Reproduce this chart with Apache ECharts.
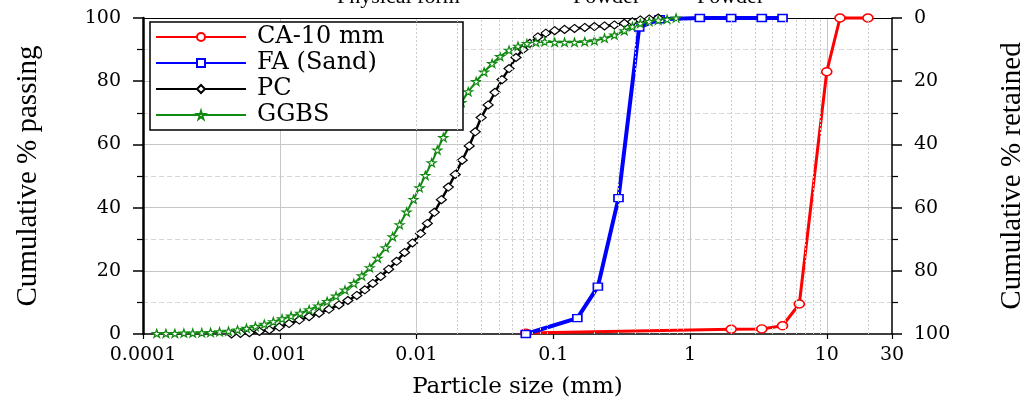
<!DOCTYPE html>
<html>
<head>
<meta charset="utf-8">
<title>Particle size distribution</title>
<script src="https://cdn.jsdelivr.net/npm/echarts@6/dist/echarts.min.js"></script>
<style>
  html, body { margin: 0; padding: 0; background: #fff; }
  #chart { width: 1035px; height: 408px; }
</style>
</head>
<body>
<div id="chart"></div>
<script>
// sieve / laser data, size in mm, cumulative % passing
const caSize = [0.063, 2, 3.35, 4.75, 6.3, 10, 12.5, 20]
const caPassing = [0.3, 1.5, 1.6, 2.6, 9.5, 83, 100, 100]

const faSize = [0.063, 0.15, 0.212, 0.3, 0.425, 0.6, 1.18, 2, 3.35, 4.75]
const faPassing = [0, 5, 15, 43, 97, 99.6, 100, 100, 100, 100]

const pcSize = [0.000444, 0.000516, 0.0006, 0.00071, 0.000839, 0.000992, 0.00117, 0.00139, 0.00164, 0.00194,
  0.00229, 0.00271, 0.00315, 0.00366, 0.00419, 0.00479, 0.00547, 0.00626, 0.00715, 0.00818,
  0.00935, 0.0107, 0.012, 0.0135, 0.0152, 0.0171, 0.0192, 0.0216, 0.0243, 0.0269,
  0.0297, 0.0334, 0.0375, 0.0422, 0.0475, 0.0534, 0.06, 0.0675, 0.0771, 0.0882,
  0.1025, 0.121, 0.143, 0.17, 0.2, 0.237, 0.28, 0.331, 0.379, 0.433, 0.503, 0.585]
const pcPassing = [0, 0.2, 0.4, 0.8, 1.3, 2.2, 3.3, 4.4, 5.5, 6.6,
  7.8, 9.2, 10.6, 12.2, 14, 16, 18.2, 20.5, 23, 25.8,
  28.8, 31.8, 35, 38.5, 42.5, 46.5, 50.5, 55, 59.5, 64,
  68.5, 72.5, 76.5, 80.5, 84, 87.5, 90, 92, 94, 95.2,
  96, 96.4, 96.7, 97, 97.3, 97.5, 97.8, 98.3, 98.8, 99.4, 99.7, 100]

const ggbsSize = [0.000126, 0.000147, 0.000171, 0.000199, 0.000231, 0.000269, 0.000312, 0.000363, 0.000422, 0.000491,
  0.000571, 0.000663, 0.000771, 0.000897, 0.00104, 0.00121, 0.00141, 0.00164, 0.00191, 0.00222,
  0.00258, 0.003, 0.00348, 0.00398, 0.00455, 0.0052, 0.00595, 0.00669, 0.00752, 0.00846,
  0.00951, 0.0105, 0.0116, 0.0129, 0.0142, 0.0157, 0.0174, 0.0192, 0.0213, 0.0239,
  0.0273, 0.0312, 0.0357, 0.0408, 0.0475, 0.0552, 0.0642, 0.0746, 0.0867, 0.1025,
  0.121, 0.143, 0.17, 0.2, 0.237, 0.28, 0.331, 0.379, 0.433, 0.503, 0.585, 0.68, 0.791]
const ggbsPassing = [0.2, 0.2, 0.2, 0.3, 0.3, 0.4, 0.5, 0.7, 0.9, 1.3,
  1.8, 2.4, 3.1, 3.9, 4.8, 5.7, 6.6, 7.7, 8.9, 10.3,
  12, 13.9, 16, 18.4, 21, 24, 27.3, 30.8, 34.6, 38.6,
  42.6, 46.3, 50.2, 54.2, 58.2, 62.2, 66, 69.8, 73.3, 76.7,
  79.9, 82.9, 85.6, 87.8, 89.8, 91.1, 91.9, 92.3, 92.5, 92.3,
  92.3, 92.3, 92.5, 92.8, 93.6, 94.6, 96, 97.3, 98.3, 98.9, 99.3, 99.6, 100]

const seriesNames = ['CA-10 mm', 'FA (Sand)', 'PC', 'GGBS']
const decades = [0.0001, 0.001, 0.01, 0.1, 1, 10]
const headerWords = ['Physical form', 'Powder', 'Powder']

const pairs = (xs, ys) => xs.map((x, i) => [x, ys[i]])

// dotted minor grid at 2..9 of each decade
const minorGrid = []
decades.forEach(d => {
  for (let k = 2; k <= 9; k++) {
    const v = +(d * k).toPrecision(3)
    if (v < 30) minorGrid.push(v)
  }
})

const serif = '"DejaVu Serif", serif'
const times = '"Liberation Serif", serif'
const star = 'path://M50,0 L61,35 L98,35 L68,57 L79,91 L50,70 L21,91 L32,57 L2,35 L39,35 Z'

const chart = echarts.init(document.getElementById('chart'), null, { renderer: 'canvas' })

const option = {
  animation: false,
  backgroundColor: '#fff',
  grid: { left: 143, right: 139, top: 18, bottom: 74 },
  graphic: [
    { type: 'text', left: 337, top: -14, style: { text: headerWords[0], font: '22px "Liberation Serif"', fill: '#000' } },
    { type: 'text', left: 573, top: -14, style: { text: headerWords[1], font: '22px "Liberation Serif"', fill: '#000' } },
    { type: 'text', left: 697, top: -14, style: { text: headerWords[2], font: '22px "Liberation Serif"', fill: '#000' } }
  ],
  legend: {
    data: seriesNames,
    orient: 'vertical',
    left: 150,
    top: 22,
    itemWidth: 90,
    itemHeight: 10,
    itemGap: 2,
    padding: [3, 8, 3, 5],
    backgroundColor: '#fff',
    borderColor: '#000',
    borderWidth: 1.5,
    textStyle: { fontFamily: serif, fontSize: 24, lineHeight: 24, color: '#000', width: 198, padding: [0, 0, 0, 6] }
  },
  xAxis: [
    {
      type: 'log',
      logBase: 10,
      min: 0.0001,
      max: 30,
      position: 'bottom',
      name: 'Particle size (mm)',
      nameLocation: 'middle',
      nameGap: 42,
      nameTextStyle: { fontFamily: serif, fontSize: 23, color: '#000' },
      axisLine: { lineStyle: { color: '#000', width: 1.5 } },
      axisTick: { length: 5, lineStyle: { color: '#000', width: 1.2 } },
      axisLabel: {
        fontFamily: serif,
        fontSize: 19,
        color: '#000',
        margin: 12,
        showMaxLabel: true,
        formatter: v => String(+(+v).toPrecision(6))
      },
      splitLine: { show: true, showMinLine: false, showMaxLine: false, lineStyle: { color: '#c6c6c6', width: 1 } }
    },
    {
      type: 'log',
      logBase: 10,
      min: 0.0001,
      max: 30,
      position: 'top',
      axisLine: { lineStyle: { color: '#000', width: 1 } },
      axisTick: { show: false },
      axisLabel: { show: false },
      splitLine: { show: false }
    }
  ],
  yAxis: [
    {
      type: 'value',
      min: 0,
      max: 100,
      interval: 20,
      position: 'left',
      name: 'Cumulative % passing',
      nameLocation: 'middle',
      nameGap: 100,
      nameTextStyle: { fontFamily: times, fontSize: 29, color: '#000' },
      axisLine: { show: true, lineStyle: { color: '#000', width: 2.5 } },
      axisTick: { show: true, length: 10, lineStyle: { color: '#000', width: 1.5 } },
      minorTick: { show: true, splitNumber: 2, length: 6, lineStyle: { color: '#000', width: 1.2 } },
      axisLabel: { fontFamily: serif, fontSize: 19, color: '#000', margin: 22 },
      splitLine: { show: true, showMinLine: false, showMaxLine: false, lineStyle: { color: '#c6c6c6', width: 1 } },
      minorSplitLine: { show: true, lineStyle: { color: '#d6d6d6', width: 1, type: [5, 3] } }
    },
    {
      type: 'value',
      min: 0,
      max: 100,
      interval: 20,
      inverse: true,
      position: 'right',
      name: 'Cumulative % retained',
      nameLocation: 'middle',
      nameGap: 106,
      nameTextStyle: { fontFamily: times, fontSize: 29, color: '#000' },
      axisLine: { show: true, lineStyle: { color: '#000', width: 1.5 } },
      axisTick: { show: true, length: 10, lineStyle: { color: '#000', width: 1.5 } },
      minorTick: { show: true, splitNumber: 2, length: 6, lineStyle: { color: '#000', width: 1.2 } },
      axisLabel: { fontFamily: serif, fontSize: 19, color: '#000', margin: 22 },
      splitLine: { show: false }
    }
  ],
  series: [
    {
      name: 'minor grid',
      type: 'line',
      data: [],
      z: 1,
      silent: true,
      markLine: {
        silent: true,
        symbol: ['none', 'none'],
        label: { show: false },
        emphasis: { disabled: true },
        lineStyle: { color: '#cccccc', width: 1, type: [2, 2] },
        data: minorGrid.map(v => ({ xAxis: v }))
      }
    },
    {
      name: seriesNames[0],
      type: 'line',
      clip: false,
      data: pairs(caSize, caPassing),
      symbol: 'circle',
      symbolSize: [10, 8],
      lineStyle: { color: '#ff0000', width: 3 },
      itemStyle: { color: '#fff', borderColor: '#ff0000', borderWidth: 1.5 }
    },
    {
      name: seriesNames[1],
      type: 'line',
      clip: false,
      data: pairs(faSize, faPassing),
      symbol: 'rect',
      symbolSize: [9, 7],
      lineStyle: { color: '#0000ff', width: 4 },
      itemStyle: { color: '#fff', borderColor: '#0000ff', borderWidth: 1.5 }
    },
    {
      name: seriesNames[2],
      type: 'line',
      clip: false,
      data: pairs(pcSize, pcPassing),
      symbol: 'diamond',
      symbolSize: [10, 8],
      lineStyle: { color: '#000', width: 2.5 },
      itemStyle: { color: '#fff', borderColor: '#000', borderWidth: 1.2 }
    },
    {
      name: seriesNames[3],
      type: 'line',
      clip: false,
      data: pairs(ggbsSize, ggbsPassing),
      symbol: star,
      symbolSize: [9, 8],
      lineStyle: { color: '#128a12', width: 2 },
      itemStyle: { color: '#fff', borderColor: '#128a12', borderWidth: 1.2 }
    }
  ]
}

chart.setOption(option)
</script>
</body>
</html>
